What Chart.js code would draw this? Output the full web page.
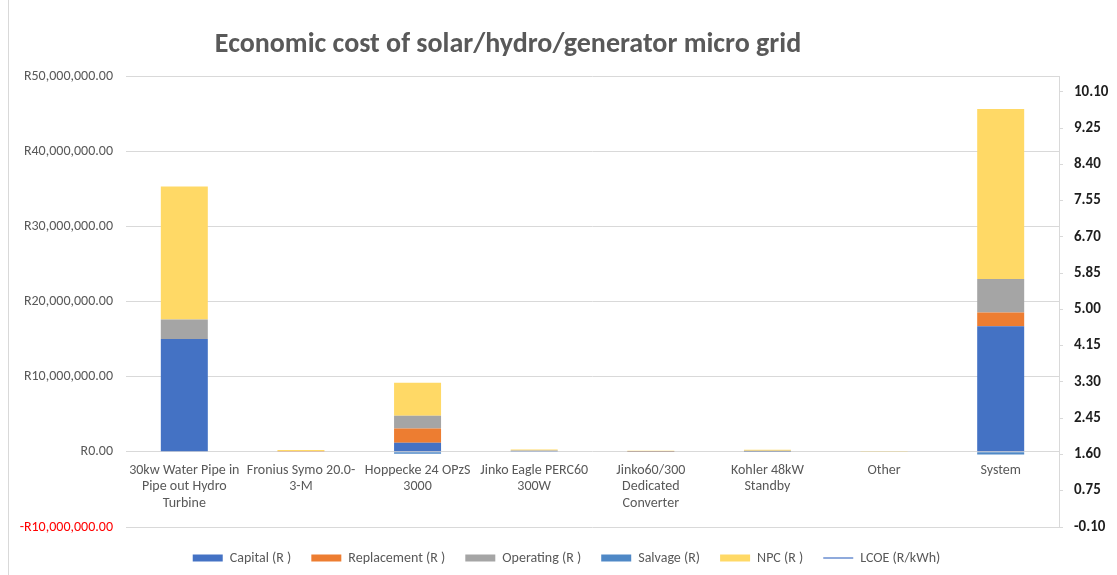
<!DOCTYPE html>
<html>
<head>
<meta charset="utf-8">
<title>Economic cost of solar/hydro/generator micro grid</title>
<script src="https://cdn.jsdelivr.net/npm/chart.js@4.4.1/dist/chart.umd.min.js"></script>
<style>
    body { margin: 0; background: #fff; }
    #wrap { position: relative; width: 1117px; height: 575px; }
    #edge { position: absolute; left: 8px; top: 0; width: 1px; height: 575px; background: #d9d9d9; }
    #chartTitle {
        position: absolute; left: 0; top: 27px; width: 1016px;
        text-align: center; font: bold 28px Carlito, Lato, sans-serif; color: #595959;
        line-height: 32px;
    }
</style>
</head>
<body>
<div id="wrap">
    <div id="edge"></div>
    <canvas id="costChart"></canvas>
    <div id="chartTitle">Economic cost of solar/hydro/generator micro grid</div>
</div>
<script>
// components (x axis)
const categories = [
    ['30kw Water Pipe in', 'Pipe out Hydro', 'Turbine'],
    ['Fronius Symo 20.0-', '3-M'],
    ['Hoppecke 24 OPzS', '3000'],
    ['Jinko Eagle PERC60', '300W'],
    ['Jinko60/300', 'Dedicated', 'Converter'],
    ['Kohler 48kW', 'Standby'],
    ['Other'],
    ['System']
];

// costs in Rand
const capital     = [15000000, 80000, 1200000, 100000, 50000, 60000, 0, 16700000];
const replacement = [0, 20000, 1900000, 0, 20000, 0, 0, 1850000];
const operating   = [2600000, 20000, 1700000, 90000, 10000, 80000, 0, 4450000];
const salvage     = [-50000, 0, -250000, 0, 0, 0, 0, -350000];
const npc         = [17700000, 120000, 4400000, 120000, 80000, 140000, 100000, 22600000];
// levelised cost, R/kWh (right axis)
const lcoe        = [null, null, null, null, null, null, null, 1.62];

const leftTicks = [-10000000, 0, 10000000, 20000000, 30000000, 40000000, 50000000];
const rightTicks = [-0.10, 0.75, 1.60, 2.45, 3.30, 4.15, 5.00, 5.85, 6.70, 7.55, 8.40, 9.25, 10.10];

const FONT = 'Carlito, Lato, sans-serif';

function rand(v) {
    const s = 'R' + Math.abs(v).toLocaleString('en-US', { minimumFractionDigits: 2, maximumFractionDigits: 2 });
    return v < 0 ? '-' + s : s;
}

function legendLabels(chart) {
    const items = Chart.defaults.plugins.legend.labels.generateLabels(chart);
    items.forEach(item => {
        const ds = chart.data.datasets[item.datasetIndex];
        if (ds.type === 'line') {
            item.pointStyle = 'line';
            item.strokeStyle = ds.borderColor;
            item.lineWidth = 2;
        } else {
            item.pointStyle = 'rect';
            item.lineWidth = 0;
        }
    });
    return items;
}

function bar(label, data, color) {
    return {
        label: label,
        data: data,
        backgroundColor: color,
        borderWidth: 0,
        yAxisID: 'y',
        barPercentage: 0.403,
        categoryPercentage: 1
    };
}

const ctx = document.getElementById('costChart').getContext('2d');
const costChart = new Chart(ctx, {
    type: 'bar',
    data: {
        labels: categories,
        datasets: [
            bar('Capital (R )', capital, '#4472c4'),
            bar('Replacement (R )', replacement, '#ed7d31'),
            bar('Operating (R )', operating, '#a5a5a5'),
            bar('Salvage (R)', salvage, '#4f88c6'),
            bar('NPC (R )', npc, '#ffd966'),
            {
                type: 'line',
                label: 'LCOE (R/kWh)',
                data: lcoe,
                borderColor: '#8faadc',
                borderWidth: 2,
                pointRadius: 0,
                yAxisID: 'y2'
            }
        ]
    },
    options: {
        responsive: true,
        maintainAspectRatio: false,
        animation: false,
        layout: { padding: { top: 76, bottom: 0, left: 16, right: 0 } },
        plugins: {
            title: { display: false },
            tooltip: { enabled: false },
            legend: {
                position: 'bottom',
                // empty title only pushes the row down a little
                title: { display: true, text: ' ', font: { size: 1, lineHeight: 1 }, padding: { top: 3, bottom: 0 } },
                labels: {
                    usePointStyle: true,
                    pointStyleWidth: 30,
                    boxHeight: 7,
                    padding: 20,
                    color: '#595959',
                    font: { family: FONT, size: 14 },
                    generateLabels: legendLabels
                }
            }
        },
        scales: {
            x: {
                position: { y: 0 },
                stacked: true,
                grid: { display: false, drawTicks: false },
                border: { display: false },
                ticks: {
                    autoSkip: false,
                    maxRotation: 0,
                    padding: 10,
                    color: '#595959',
                    font: { family: FONT, size: 14, lineHeight: 1.18 }
                }
            },
            y: {
                position: 'left',
                stacked: true,
                min: -10000000,
                max: 50000000,
                afterBuildTicks: scale => { scale.ticks = leftTicks.map(v => ({ value: v })); },
                afterFit: scale => { scale.width = 110; },
                grid: { color: '#d9d9d9', drawTicks: false },
                border: { display: false },
                ticks: {
                    padding: 13,
                    font: { family: FONT, size: 14 },
                    color: c => c.tick.value < 0 ? '#ff0000' : '#595959',
                    callback: v => rand(v)
                }
            },
            y2: {
                position: 'right',
                min: -0.10,
                max: 10.47,
                afterBuildTicks: scale => { scale.ticks = rightTicks.map(v => ({ value: v })); },
                afterFit: scale => { scale.width = 58; },
                grid: { drawOnChartArea: false, tickLength: 4, color: '#d9d9d9' },
                border: { color: '#d9d9d9' },
                ticks: {
                    padding: 11,
                    color: '#1e1e1e',
                    font: { family: FONT, size: 15, weight: 'bold' },
                    callback: v => v.toFixed(2)
                }
            }
        }
    }
});
</script>
</body>
</html>
